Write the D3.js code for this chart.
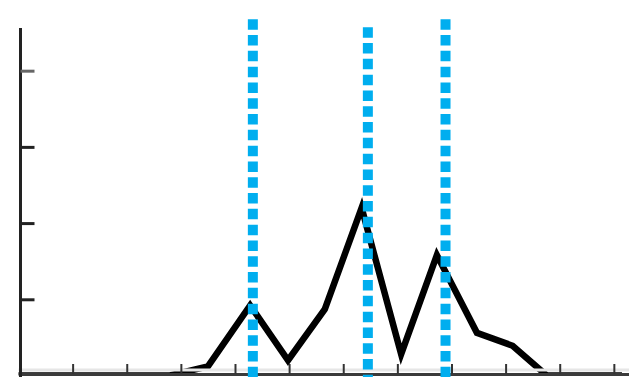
<!DOCTYPE html>
<html>
<head>
<meta charset="utf-8">
<script src="https://cdn.jsdelivr.net/npm/d3@7"></script>
<style>
	html, body { margin: 0; padding: 0; background: #fff; }
	svg { display: block; }
</style>
</head>
<body>
<div id="chartContainer"></div>
<script>

// histogram line (x in axis units, y in tick units)
let binX 	= [0, 7, 14, 21, 28, 35.0, 42.8, 49.8, 56.6, 63.4, 70.7, 77.3, 84.7, 91.3, 97.6, 104.5, 111.5],
	binY 	= [0, 0, 0, 0, 0, 0.12, 0.92, 0.20, 0.87, 2.20, 0.28, 1.58, 0.56, 0.39, 0, 0, 0];

// dotted marker lines
let markerX 	= [43.3, 64.55, 78.9],
	markerTop 	= [4.675, 4.57, 4.675];

let xTicks = [10, 20, 30, 40, 50, 60, 70, 80, 90, 100, 110],
	yTicks = [1, 2, 3, 4];


function draw () {

	let canvasWidth 	= 629,
		canvasHeight 	= 377;

	let svg = d3.select("#chartContainer")
		.append("svg")
			.attr("width", canvasWidth)
			.attr("height", canvasHeight);

	let xScale = d3.scaleLinear()
		.domain([0, 112.8])
		.range([18.5, 629]);

	let yScale = d3.scaleLinear()
		.domain([0, 4.56])
		.range([375.5, 28]);

	// clip so the zero stretches hide under the x axis
	svg.append("clipPath")
		.attr("id", "plotClip")
		.append("rect")
			.attr("x", 0)
			.attr("y", 0)
			.attr("width", canvasWidth)
			.attr("height", yScale(0));

	// data line
	let lineGen = d3.line()
		.x(function (d) { return xScale(d[0]); })
		.y(function (d) { return yScale(d[1]); });

	svg.append("path")
		.datum(d3.zip(binX, binY))
		.attr("d", lineGen)
		.attr("clip-path", "url(#plotClip)")
		.attr("fill", "none")
		.attr("stroke", "#000")
		.attr("stroke-width", 6.5)
		.attr("stroke-linejoin", "miter");

	// soft band above the x axis
	svg.append("line")
		.attr("x1", xScale(0))
		.attr("x2", canvasWidth)
		.attr("y1", 370)
		.attr("y2", 370)
		.attr("stroke", "#e6e6e6")
		.attr("stroke-width", 3);

	// x axis, ticks pointing up
	let xAxis = d3.axisBottom(xScale)
		.tickValues(xTicks)
		.tickSizeInner(-10)
		.tickSizeOuter(0)
		.tickFormat("");

	let xAxisG = svg.append("g")
		.attr("transform", "translate(0,374)")
		.call(xAxis);

	xAxisG.select(".domain")
		.attr("stroke", "#3a3a3a")
		.attr("stroke-width", 3);

	xAxisG.selectAll(".tick line")
		.attr("stroke", "#333")
		.attr("stroke-width", 2);

	// y axis, ticks pointing right
	let yAxis = d3.axisLeft(yScale)
		.tickValues(yTicks)
		.tickSizeInner(-14)
		.tickSizeOuter(0)
		.tickFormat("");

	let yAxisG = svg.append("g")
		.attr("transform", "translate(20.5,0)")
		.call(yAxis);

	yAxisG.select(".domain")
		.attr("d", "M0," + (yScale(0) + 2) + "V" + yScale.range()[1])
		.attr("stroke", "#222")
		.attr("stroke-width", 3);

	yAxisG.selectAll(".tick line")
		.attr("stroke", function (d) { return d === 4 ? "#666" : "#222"; })
		.attr("stroke-width", 3);

	// dotted cyan markers, drawn over the line
	svg.selectAll(".marker")
		.data(d3.zip(markerX, markerTop))
			.enter()
				.append("line")
					.classed("marker", true)
					.attr("x1", function (d) { return xScale(d[0]); })
					.attr("x2", function (d) { return xScale(d[0]); })
					.attr("y1", function (d) { return yScale(d[1]); })
					.attr("y2", canvasHeight)
					.attr("stroke", "#00aeef")
					.attr("stroke-width", 10)
					.attr("stroke-dasharray", "10.5,5.3");
};

draw();

</script>
</body>
</html>
